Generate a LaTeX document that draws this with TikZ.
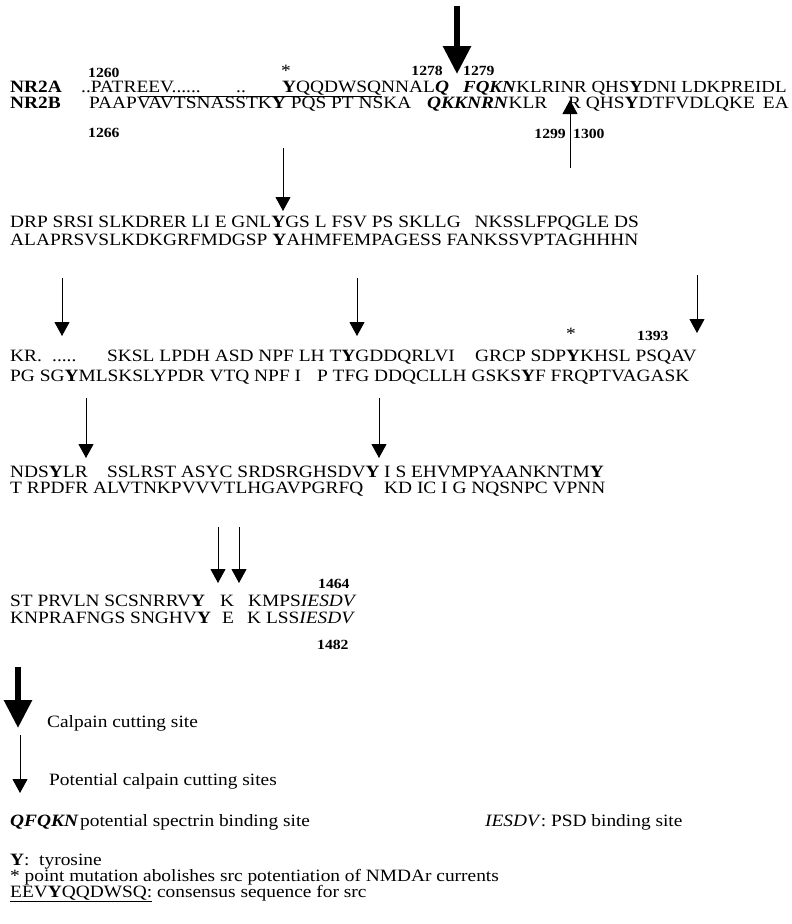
\documentclass[tikz,border=0pt]{standalone}
\usepackage{fontspec}
\setmainfont{Liberation Serif}[FakeStretch=1.12]
\usetikzlibrary{arrows.meta}
\newcommand{\seqfont}{\fontsize{17.3}{17.3}\selectfont}
\newcommand{\numfont}{\fontsize{14}{14}\selectfont\bfseries}
\newcommand{\bY}{\textbf{Y}}
\newcommand{\bi}[1]{\textbf{\textit{#1}}}
\tikzset{seq/.style={anchor=base west,inner sep=0pt,font=\seqfont},
  num/.style={anchor=base west,inner sep=0pt,font=\numfont},
  cut/.style={line width=0.9pt,-{Triangle[width=15pt,length=14pt]}},
  bigcut/.style={line width=6pt,-{Triangle[width=27pt,length=28pt]}},}
\begin{document}
\begin{tikzpicture}[x=1pt,y=-1pt]
    \fill[white] (0,0) rectangle (792,924);
    \useasboundingbox (0,0) rectangle (792,924);

    % first block
    \node[seq,font=\seqfont\bfseries] (nr2a) at (10,92) {NR2A};
    \node[seq] (a1) at (81,92) {..PATREEV......};
    \node[seq] (a2) at (236,92) {..};
    \node[seq] (a3) at (282,92) {\bY QQDWSQNNAL\bi{Q}};
    \node[seq,font=\fontsize{16.9}{16.9}\selectfont] (a4) at (463,92) {\bi{FQKN}KLRINR QHS\bY DNI LDKPREIDL};
    \node[seq,font=\seqfont\bfseries] (nr2b) at (10,108) {NR2B};
    \node[seq] (b1) at (89,108) {PAAPVAVTSNASSTK\bY{} PQS PT NSKA};
    \node[seq] (b2) at (427,108) {\bi{QKKNRN}KLR};
    \node[seq] (b3) at (568,108) {R QHS\bY DTFVDLQKE};
    \node[seq,anchor=base east] (b4) at (789,108) {EA};
    \draw[line width=0.8pt] (140,96) -- (382,96);

    \node[num] (n1260) at (88,77) {1260};
    \node[seq] (star1) at (281,76) {*};
    \node[num,anchor=base east] (n1278) at (443,75) {1278};
    \node[num] (n1279) at (463,75) {1279};
    \node[num] (n1266) at (88,137) {1266};
    \node[num,anchor=base east] (n1299) at (566,138) {1299};
    \node[num] (n1300) at (573,138) {1300};

    % second block
    \node[seq] (d1) at (10,227) {DRP SRSI SLKDRER LI E GNL\bY GS L FSV PS SKLLG\hspace{14pt}NKSSLFPQGLE DS};
    \node[seq] (d2) at (10,245) {ALAPRSVSLKDKGRFMDGSP \bY AHMFEMPAGESS FANKSSVPTAGHHHN};

    % third block
    \node[seq] (k1) at (10,361) {KR.};
    \node[seq] (k2) at (52,361) {.....};
    \node[seq] (k3) at (107,361) {SKSL LPDH ASD NPF LH T\bY GDDQRLVI};
    \node[seq] (k4) at (475,361) {GRCP SDP\bY KHSL PSQAV};
    \node[seq] (p1) at (10,381) {PG SG\bY MLSKSLYPDR VTQ NPF I\hspace{16pt}P TFG DDQCLLH GSKS\bY F FRQPTVAGASK};
    \node[seq] (star2) at (566,339) {*};
    \node[num] (n1393) at (637,340) {1393};

    % fourth block
    \node[seq] (n1) at (10,477) {NDS\bY LR};
    \node[seq] (n2) at (107,477) {SSLRST ASYC SRDSRGHSDV\bY};
    \node[seq] (n3) at (384,477) {I S EHVMPYAANKNTM\bY};
    \node[seq] (t1) at (10,493) {T RPDFR ALVTNKPVVVTLHGAVPGRFQ};
    \node[seq] (t2) at (384,493) {KD IC I G NQSNPC VPNN};

    % fifth block
    \node[seq] (s1) at (10,606) {ST PRVLN SCSNRRV\bY};
    \node[seq] (s2) at (220,606) {K};
    \node[seq] (s3) at (248,606) {KMPS\textit{IESDV}};
    \node[seq] (r1) at (10,623) {KNPRAFNGS SNGHV\bY};
    \node[seq] (r2) at (222,623) {E};
    \node[seq] (r3) at (247,623) {K LSS\textit{IESDV}};
    \node[num] (n1464) at (318,588) {1464};
    \node[num] (n1482) at (317,649) {1482};

    % cutting sites
    \coordinate (big top) at (457,6);
    \coordinate (big tip) at (457,74);
    \draw[bigcut] (big top) -- (big tip);
    \coordinate (up low) at (570,168);
    \coordinate (up tip) at (570,100);
    \draw[cut] (up low) -- (up tip);
    \foreach \n/\x/\ya/\yb in {cA/283/148/211,cB/62/278/336,cC/357/278/336,cD/697/275/333,
      cE/86/398/458,cF/379/398/458,cG/218/527/583,cH/239/527/583} {
      \coordinate (\n top) at (\x,\ya);
      \coordinate (\n tip) at (\x,\yb);
      \draw[cut] (\n top) -- (\n tip);
    }

    % legend
    \coordinate (leg big top) at (18,667);
    \coordinate (leg big tip) at (18,728);
    \draw[bigcut] (leg big top) -- (leg big tip);
    \node[seq] (calp) at (47,727) {Calpain cutting site};
    \coordinate (leg top) at (20,735);
    \coordinate (leg tip) at (20,793);
    \draw[cut] (leg top) -- (leg tip);
    \node[seq] (pot) at (49,785) {Potential calpain cutting sites};
    \node[seq] (qfqkn) at (10,826) {\bi{QFQKN}};
    \node[seq] (spec) at (80,826) {potential spectrin binding site};
    \node[seq] (psd) at (485,826) {\textit{IESDV}: PSD binding site};
    \node[seq] (tyr) at (10,865) {\textbf{Y}:\ \ tyrosine};
    \node[seq] (mut) at (10,881) {* point mutation abolishes src potentiation of NMDAr currents};
    \node[seq] (cons) at (10,897) {\underline{EEV\bY QQDWSQ:} consensus sequence for src};
\end{tikzpicture}
\end{document}
